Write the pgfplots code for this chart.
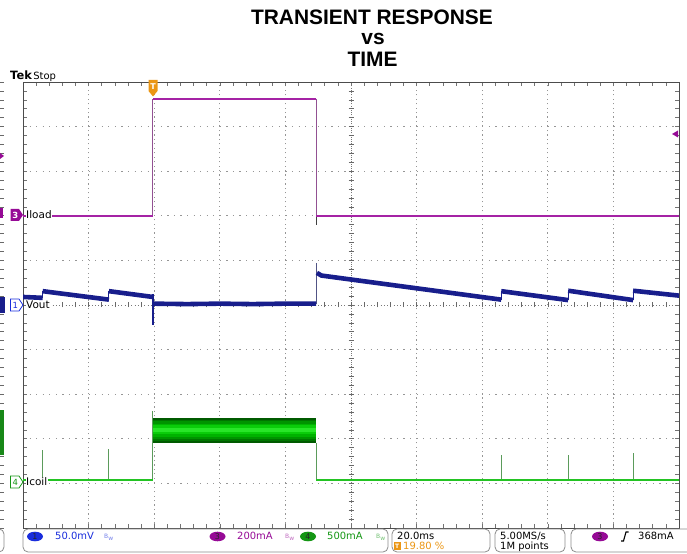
\documentclass[border=0pt]{standalone}
\usepackage{pgfplots}
\pgfplotsset{compat=1.18}
\usepackage{fontspec}
\setmainfont{DejaVu Sans}
\newfontfamily\titlefont{Liberation Sans}
\definecolor{voutc}{RGB}{24,30,140}
\definecolor{iloadc}{RGB}{165,35,165}
\definecolor{icoilc}{RGB}{35,195,35}
\definecolor{gridc}{RGB}{150,150,150}
\definecolor{tekorange}{RGB}{235,150,20}
\definecolor{ch1}{RGB}{25,45,220}
\definecolor{ch3}{RGB}{150,10,150}
\definecolor{ch4}{RGB}{20,150,20}
\definecolor{g1}{RGB}{0,90,0}
\definecolor{g2}{RGB}{0,118,0}
\definecolor{g3}{RGB}{0,148,0}
\definecolor{g4}{RGB}{0,178,0}
\definecolor{g5}{RGB}{10,205,10}
\definecolor{g6}{RGB}{40,230,40}
\begin{document}
\begin{tikzpicture}[x=1bp,y=1bp]
\useasboundingbox (0,0) rectangle (687,554);
% background grid (scope graticule)
\foreach \i in {1,2,3,4,6,7,8,9} {
  \draw[gridc, line width=1.2bp, dash pattern=on 1.2bp off 3.26bp] ({23+\i*65.6},26) -- ({23+\i*65.6},472);
  \draw[gridc, line width=1.2bp, dash pattern=on 1.2bp off 5.36bp] (23,{26+\i*44.6}) -- (679,{26+\i*44.6});
}
\draw[gridc!80!black, line width=0.9bp, dash pattern=on 1bp off 2.28bp] (23,249) -- (679,249);
\draw[gridc!80!black, line width=0.9bp, dash pattern=on 1bp off 1.23bp] (351,26) -- (351,472);
\foreach \k in {1,...,49} {
  \draw[gridc!70!black, line width=0.6bp] ({23+\k*13.12},246.5) -- ++(0,5);
  \draw[gridc!70!black, line width=0.6bp] (348.5,{26+\k*8.92}) -- ++(5,0);
}
% left edge remnants
\foreach \k in {0,...,50} {
  \draw[gridc!70!black, line width=0.6bp] (0,{26+\k*8.92}) -- ++(4,0);
}
\fill[ch3] (0,395) -- (4,398) -- (0,401) -- cycle;
\fill[ch3] (0,336) rectangle (3,346);
\fill[voutc] (0,241) rectangle (5,257);
\fill[icoilc!70!black] (0,99) rectangle (4,144);
\draw[black!45, line width=0.8bp, rounded corners=5bp] (-20,2) rectangle (4,25);

\begin{axis}[at={(23bp,26bp)}, anchor=south west,
  width=656bp, height=446bp, scale only axis,
  xmin=0, xmax=10, ymin=0, ymax=10,
  xtick={0,1,...,10}, ytick={0,1,...,10},
  minor x tick num=4, minor y tick num=4,
  xticklabels={}, yticklabels={},
  tick align=inside, major tick length=4bp, minor tick length=4bp,
  tick style={black!55, line width=0.6bp},
  axis line style={black!70, line width=0.9bp},
  clip=true]
% ---- Iload (ch3)
\addplot[iloadc!50!gray, line width=1bp] coordinates {(1.98,7.0) (1.98,9.62)};
\addplot[iloadc!50!gray, line width=1bp] coordinates {(4.47,9.62) (4.47,7.0)};
\addplot[black!75, line width=1bp] coordinates {(4.47,7.0) (4.47,6.80)};
\addplot[iloadc, line width=2bp] coordinates {(0,7.0) (1.98,7.0)};
\addplot[iloadc, line width=2bp] coordinates {(1.98,9.62) (4.47,9.62)};
\addplot[iloadc, line width=2bp] coordinates {(4.47,7.0) (10,7.0)};
% ---- Vout (ch1)
\addplot[voutc, line width=1.3bp] coordinates {(1.98,5.24) (1.98,4.56)};
\addplot[voutc!45!gray, line width=1bp] coordinates {(4.47,5.03) (4.47,5.95)};
\addplot[voutc, line width=1bp] coordinates {(0.30,5.16) (0.30,5.31)};
\addplot[voutc, line width=1bp] coordinates {(1.31,5.12) (1.31,5.31)};
\addplot[voutc, line width=1bp] coordinates {(7.29,5.12) (7.29,5.31)};
\addplot[voutc, line width=1bp] coordinates {(8.31,5.11) (8.31,5.32)};
\addplot[voutc, line width=1bp] coordinates {(9.30,5.11) (9.30,5.32)};
\addplot[voutc, line width=4.6bp] coordinates {(0,5.18) (0.30,5.16)};
\addplot[voutc, line width=4.6bp] coordinates {(0.30,5.31) (1.31,5.12)};
\addplot[voutc, line width=4.6bp] coordinates {(1.31,5.31) (1.98,5.18)};
\addplot[voutc, line width=4.6bp] coordinates {(1.98,5.03) (2.5,5.02) (3.0,5.03) (3.5,5.02) (4.0,5.03) (4.47,5.03)};
\addplot[voutc, line width=4.6bp] coordinates {(4.48,5.72) (4.55,5.66) (7.29,5.12)};
\addplot[voutc, line width=4.6bp] coordinates {(7.29,5.31) (8.31,5.11)};
\addplot[voutc, line width=4.6bp] coordinates {(8.31,5.32) (9.30,5.11)};
\addplot[voutc, line width=4.6bp] coordinates {(9.30,5.32) (10,5.21)};
% ---- Icoil (ch4): switching burst band, layered from dark edges to bright centre
\addplot[draw=none, fill=g1] coordinates {(1.98,1.91) (1.98,2.47) (4.47,2.47) (4.47,1.91)} -- cycle;
\addplot[draw=none, fill=g2] coordinates {(1.98,1.95) (1.98,2.43) (4.47,2.43) (4.47,1.95)} -- cycle;
\addplot[draw=none, fill=g3] coordinates {(1.98,2.00) (1.98,2.39) (4.47,2.39) (4.47,2.00)} -- cycle;
\addplot[draw=none, fill=g4] coordinates {(1.98,2.05) (1.98,2.34) (4.47,2.34) (4.47,2.05)} -- cycle;
\addplot[draw=none, fill=g5] coordinates {(1.98,2.10) (1.98,2.30) (4.47,2.30) (4.47,2.10)} -- cycle;
\addplot[draw=none, fill=g6] coordinates {(1.98,2.15) (1.98,2.25) (4.47,2.25) (4.47,2.15)} -- cycle;
\addplot[icoilc!40!gray, line width=1bp] coordinates {(1.98,1.08) (1.98,2.62)};
\addplot[icoilc!40!gray, line width=1bp] coordinates {(4.47,1.91) (4.47,1.06)};
\addplot[icoilc!40!gray, line width=1bp] coordinates {(0.30,1.08) (0.30,1.75)};
\addplot[icoilc!40!gray, line width=1bp] coordinates {(1.31,1.08) (1.31,1.77)};
\addplot[icoilc!40!gray, line width=1bp] coordinates {(7.29,1.08) (7.29,1.64)};
\addplot[icoilc!40!gray, line width=1bp] coordinates {(8.31,1.08) (8.31,1.64)};
\addplot[icoilc!40!gray, line width=1bp] coordinates {(9.30,1.08) (9.30,1.68)};
\addplot[icoilc, line width=2bp] coordinates {(0,1.08) (1.98,1.08)};
\addplot[icoilc, line width=2bp] coordinates {(4.47,1.08) (10,1.08)};
\end{axis}

% channel labels and markers
\node[anchor=west, fill=white, inner sep=0.5bp, font=\fontsize{10.5}{10.5}\selectfont] at (25.5,339) {Iload};
\node[anchor=west, fill=white, inner sep=0.5bp, font=\fontsize{10.5}{10.5}\selectfont] at (25.5,249) {Vout};
\node[anchor=west, fill=white, inner sep=0.5bp, font=\fontsize{10.5}{10.5}\selectfont] at (25.5,72) {Icoil};
\fill[ch3] (10.5,333) -- (19,333) -- (23,339) -- (19,345) -- (10.5,345) -- cycle;
\node[white, font=\fontsize{8.5}{8.5}\selectfont\bfseries] at (15.3,339) {3};
\filldraw[draw=ch1, fill=white, line width=0.8bp] (10.5,243) -- (19,243) -- (23,249) -- (19,255) -- (10.5,255) -- cycle;
\node[ch1, font=\fontsize{8.5}{8.5}\selectfont] at (15.3,249) {1};
\filldraw[draw=ch4, fill=white, line width=0.8bp] (10.5,66) -- (19,66) -- (23,72) -- (19,78) -- (10.5,78) -- cycle;
\node[ch4, font=\fontsize{8.5}{8.5}\selectfont] at (15.3,72) {4};

% trigger markers
\fill[tekorange] (148.5,474) -- (157.5,474) -- (157.5,463) -- (153,457.5) -- (148.5,463) -- cycle;
\node[white, font=\fontsize{8}{8}\selectfont\bfseries] at (153,467) {T};
\fill[ch3] (672,420) -- (678,423.5) -- (678,416.5) -- cycle;

% title
\node[anchor=base, font={\titlefont\bfseries\fontsize{21}{21}\selectfont}] at (372,529) {TRANSIENT RESPONSE};
\node[anchor=base, font={\titlefont\bfseries\fontsize{21}{21}\selectfont}] at (373,509) {vs};
\node[anchor=base, font={\titlefont\bfseries\fontsize{21}{21}\selectfont}] at (372.5,487) {TIME};
\node[anchor=base west, inner sep=0] at (10,474) {\fontsize{11.5}{11.5}\selectfont\bfseries Tek\hspace{1.5bp}\fontsize{10}{10}\selectfont\mdseries Stop};

% status bar
\draw[black!45, line width=0.8bp, rounded corners=5bp] (23,2) rectangle (388,25);
\draw[black!45, line width=0.8bp, rounded corners=5bp] (392,2) rectangle (490,25);
\draw[black!45, line width=0.8bp, rounded corners=5bp] (495,2) rectangle (565,25);
\draw[black!45, line width=0.8bp, rounded corners=5bp] (571,2) rectangle (700,25);
\fill[ch1] (35,17.5) ellipse (8 and 4.8);
\node[black!85, font=\fontsize{8}{8}\selectfont] at (35,17.5) {1};
\node[anchor=base west, inner sep=0, ch1, font=\fontsize{10}{10}\selectfont] at (55,14.5) {50.0mV};
\node[anchor=base west, inner sep=0, ch1!60, font=\fontsize{6}{6}\selectfont] at (104,15) {B\raisebox{-1.5bp}{w}};
\fill[ch3] (217.5,17.5) ellipse (8 and 4.8);
\node[black!85, font=\fontsize{8}{8}\selectfont] at (217.5,17.5) {3};
\node[anchor=base west, inner sep=0, ch3, font=\fontsize{10}{10}\selectfont] at (237,14.5) {200mA};
\node[anchor=base west, inner sep=0, ch3!60, font=\fontsize{6}{6}\selectfont] at (285,15) {B\raisebox{-1.5bp}{w}};
\fill[ch4] (308,17.5) ellipse (8 and 4.8);
\node[black!85, font=\fontsize{8}{8}\selectfont] at (308,17.5) {4};
\node[anchor=base west, inner sep=0, ch4, font=\fontsize{10}{10}\selectfont] at (327,14.5) {500mA};
\node[anchor=base west, inner sep=0, ch4!60, font=\fontsize{6}{6}\selectfont] at (376,15) {B\raisebox{-1.5bp}{w}};
\node[anchor=base west, inner sep=0, font=\fontsize{10}{10}\selectfont] at (397,14.5) {20.0ms};
\fill[tekorange] (394,4) rectangle (400.5,11.5);
\node[white, font=\fontsize{6}{6}\selectfont\bfseries] at (397.25,7.75) {T};
\node[anchor=base west, inner sep=0, tekorange, font=\fontsize{10}{10}\selectfont] at (403,4) {19.80 \%};
\node[anchor=base west, inner sep=0, font=\fontsize{10}{10}\selectfont] at (500,14.5) {5.00MS/s};
\node[anchor=base west, inner sep=0, font=\fontsize{10}{10}\selectfont] at (500,4) {1M points};
\fill[ch3] (600,17.5) ellipse (8 and 4.8);
\node[black!85, font=\fontsize{8}{8}\selectfont] at (600,17.5) {3};
\draw[black, line width=1.1bp] (621,13) -- (623.5,13) -- (626,22) -- (628.5,22);
\node[anchor=base west, inner sep=0, font=\fontsize{10}{10}\selectfont] at (638,14.5) {368mA};
\end{tikzpicture}
\end{document}
